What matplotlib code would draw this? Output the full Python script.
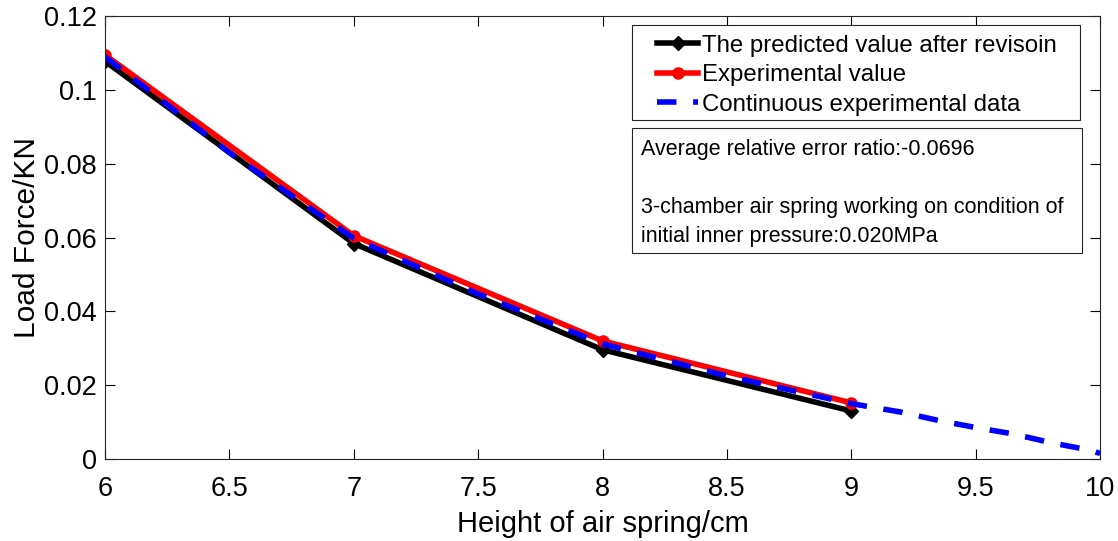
import matplotlib.pyplot as plt
from matplotlib.patches import Rectangle

plt.rcParams['font.family'] = ['Liberation Sans', 'DejaVu Sans']

# data
height = [6, 7, 8, 9]
predicted = [0.1078, 0.0584, 0.0296, 0.0130]
experimental = [0.1095, 0.0605, 0.0320, 0.0152]

cont_height = [6.0, 6.5, 7.0, 7.5, 8.0, 8.5, 9.0, 9.2, 9.36, 9.51, 9.65, 9.81, 9.96, 10.0]
cont_force = [0.1090, 0.0830, 0.0598, 0.0447, 0.0312, 0.0225, 0.0150, 0.0127,
              0.0103, 0.0084, 0.0068, 0.0043, 0.0024, 0.0015]

fig = plt.figure(figsize=(11.18, 5.41), dpi=100)
ax = fig.add_axes([0.094, 0.1516, 0.890, 0.8184])

ax.plot(height, predicted, 'k-D', lw=4, ms=7, label='The predicted value after revisoin')
ax.plot(height, experimental, 'r-o', lw=4, ms=8, label='Experimental value')
ax.plot(cont_height, cont_force, '--', color='blue', lw=4, dashes=(3.5, 3),
        label='Continuous experimental data')

ax.set_xlim(6, 10)
ax.set_ylim(0, 0.12)
ax.set_xticks([6, 6.5, 7, 7.5, 8, 8.5, 9, 9.5, 10])
ax.set_xticklabels(['6', '6.5', '7', '7.5', '8', '8.5', '9', '9.5', '10'])
ax.set_yticks([0, 0.02, 0.04, 0.06, 0.08, 0.1, 0.12])
ax.set_yticklabels(['0', '0.02', '0.04', '0.06', '0.08', '0.1', '0.12'])
ax.tick_params(direction='in', top=True, right=True, labelsize=19.5, length=7, width=0.8, pad=6)
ax.tick_params(axis='x', pad=12)
for s in ax.spines.values():
    s.set_linewidth(0.8)
    s.set_color('#262626')

ax.set_xlabel('Height of air spring/cm', fontsize=21, labelpad=6)
ax.set_ylabel('Load Force/KN', fontsize=21.5, labelpad=2)

# legend box drawn by hand, legend entries placed inside it
ax.add_patch(Rectangle((0.5296, 0.765), 0.4503, 0.2144, transform=ax.transAxes,
                       fc='white', ec='#262626', lw=0.8, zorder=5))
leg = ax.legend(loc='upper left', bbox_to_anchor=(0.5477, 0.975), fontsize=17.3,
                frameon=False, handlelength=1.7, handletextpad=0.17, borderpad=0.3,
                labelspacing=0.32, borderaxespad=0)
leg.set_zorder(6)

# annotation box
ax.add_patch(Rectangle((0.5296, 0.465), 0.4524, 0.282, transform=ax.transAxes,
                       fc='white', ec='#262626', lw=0.8, zorder=5))
ax.text(0.5387, 0.722,
        'Average relative error ratio:-0.0696\n\n3-chamber air spring working on condition of\ninitial inner pressure:0.020MPa',
        transform=ax.transAxes, fontsize=15.5, va='top', ha='left', linespacing=1.5,
        zorder=6)

fig.savefig('out.png', dpi=100)
